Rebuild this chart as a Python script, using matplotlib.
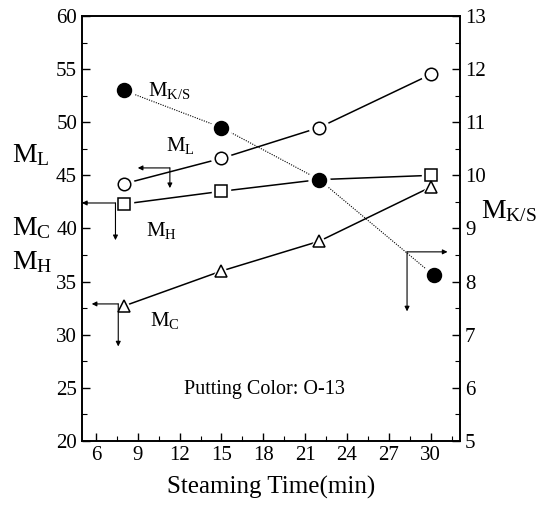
import matplotlib
matplotlib.use("Agg")
import matplotlib.pyplot as plt
from matplotlib.ticker import MultipleLocator

plt.rcParams['font.family'] = ['Liberation Serif', 'DejaVu Serif']
plt.rcParams['mathtext.fontset'] = 'custom'
plt.rcParams['mathtext.rm'] = 'Liberation Serif'
plt.rcParams['mathtext.it'] = 'Liberation Serif'

# Data
time = [8, 15, 22, 30]
time_ks = [8, 15, 22, 30.2]
m_l = [44.2, 46.6, 49.5, 54.5]
m_h = [42.3, 43.5, 44.6, 45.0]
m_c = [32.7, 36.0, 38.8, 43.9]
m_ks = [11.6, 10.9, 9.92, 8.12]

fig = plt.figure(figsize=(5.44, 5.09), dpi=100)
ax = fig.add_axes([0.1507, 0.1336, 0.695, 0.835])
ax2 = ax.twinx()

def series(a, x, y, marker, face, ms, ls='-', lw=1.1):
    a.plot(x, y, color='black', linestyle=ls, linewidth=lw, zorder=2)
    a.plot(x, y, linestyle='none', marker=marker, markersize=ms + 5,
           markerfacecolor='white', markeredgecolor='white', zorder=3)
    a.plot(x, y, linestyle='none', marker=marker, markersize=ms,
           markerfacecolor=face, markeredgecolor='black', markeredgewidth=1.1, zorder=4)

series(ax, time, m_l, 'o', 'white', 9)
series(ax, time, m_h, 's', 'white', 8)
series(ax, time, m_c, '^', 'white', 9)
series(ax2, time_ks, m_ks, 'o', 'black', 10, ls=(0, (1, 1.2)), lw=0.8)

ax.set_xlim(5, 32.1)
ax.set_ylim(20, 60)
ax2.set_ylim(5, 13)

ax.xaxis.set_major_locator(MultipleLocator(3))
ax.xaxis.set_minor_locator(MultipleLocator(1.5))
ax.yaxis.set_major_locator(MultipleLocator(5))
ax.yaxis.set_minor_locator(MultipleLocator(2.5))
ax2.yaxis.set_major_locator(MultipleLocator(1))
ax2.yaxis.set_minor_locator(MultipleLocator(0.5))

ax.tick_params(axis='both', which='both', direction='in', labelsize=15, top=False)
ax.tick_params(axis='both', which='major', length=6, width=1)
ax.tick_params(axis='both', which='minor', length=3.5, width=0.8)
ax.tick_params(axis='y', right=False)
ax2.tick_params(axis='y', which='both', direction='in', labelsize=15)
ax2.tick_params(axis='y', which='major', length=6, width=1)
ax2.tick_params(axis='y', which='minor', length=3.5, width=0.8)
for a in (ax, ax2):
    for s in a.spines.values():
        s.set_linewidth(1.2)

ax.set_xlabel('Steaming Time(min)', fontsize=18, labelpad=8)

# Axis labels for series
fig.text(0.022, 0.695, r'M$_\mathregular{L}$', fontsize=20, ha='left', va='center')
fig.text(0.022, 0.552, r'M$_\mathregular{C}$', fontsize=20, ha='left', va='center')
fig.text(0.022, 0.485, r'M$_\mathregular{H}$', fontsize=20, ha='left', va='center')
fig.text(0.885, 0.585, r'M$_\mathregular{K/S}$', fontsize=20, ha='left', va='center')

# In-plot labels
ax.text(9.7, 53.0, r'M$_\mathregular{K/S}$', fontsize=15, va='center')
ax.text(11.0, 47.8, r'M$_\mathregular{L}$', fontsize=15, va='center')
ax.text(9.6, 39.8, r'M$_\mathregular{H}$', fontsize=15, va='center')
ax.text(9.9, 31.3, r'M$_\mathregular{C}$', fontsize=15, va='center')
ax.text(18.1, 24.8, 'Putting Color: O-13', fontsize=14.5, ha='center', va='center')

# Guide arrows
ap = dict(arrowstyle='-|>', color='black', lw=0.8, mutation_scale=7, shrinkA=0, shrinkB=0)
def arrow(x0, y0, x1, y1):
    ax.annotate('', xy=(x1, y1), xytext=(x0, y0), arrowprops=ap)

arrow(11.3, 45.7, 9.0, 45.7)
arrow(11.3, 45.7, 11.3, 43.8)
arrow(7.4, 42.4, 5.0, 42.4)
arrow(7.4, 42.4, 7.4, 38.9)
arrow(7.6, 32.9, 5.7, 32.9)
arrow(7.6, 32.9, 7.6, 28.9)
arrow(28.3, 37.8, 31.2, 37.8)
arrow(28.3, 37.8, 28.3, 32.2)

fig.savefig('out.png', dpi=100)
